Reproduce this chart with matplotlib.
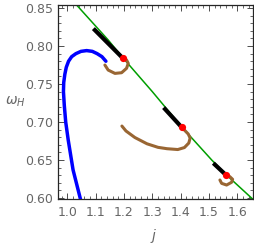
import matplotlib
matplotlib.use("Agg")
import matplotlib.pyplot as plt
from matplotlib.ticker import MultipleLocator, FormatStrFormatter

# Green boundary line
green_j = [1.0325, 1.144, 1.195, 1.30, 1.403, 1.51, 1.56, 1.655]
green_w = [0.854, 0.808, 0.785, 0.740, 0.694, 0.650, 0.631, 0.5985]

# Blue curve
blue_j = [1.046, 1.020, 1.003, 0.994, 0.989, 0.986, 0.987, 0.991, 0.996, 1.004, 1.015, 1.030,
          1.048, 1.068, 1.088, 1.105, 1.122, 1.136]
blue_w = [0.5987, 0.637, 0.676, 0.700, 0.722, 0.740, 0.752, 0.763, 0.772, 0.780, 0.786, 0.790,
          0.793, 0.794, 0.793, 0.790, 0.786, 0.780]

# Black segments (start -> red dot)
black1_j = [1.097, 1.196]
black1_w = [0.821, 0.784]
black2_j = [1.345, 1.404]
black2_w = [0.717, 0.693]
black3_j = [1.521, 1.561]
black3_w = [0.644, 0.630]

# Red dots
red_j = [1.196, 1.404, 1.561]
red_w = [0.784, 0.693, 0.630]

# Brown curves
brown1_j = [1.1325, 1.144, 1.168, 1.1915, 1.209, 1.215, 1.209, 1.197]
brown1_w = [0.775, 0.7684, 0.764, 0.7649, 0.7707, 0.7772, 0.7816, 0.785]
brown2_j = [1.1926, 1.207, 1.2385, 1.281, 1.320, 1.3516, 1.390, 1.4134, 1.429, 1.4336, 1.427, 1.4117, 1.4046]
brown2_w = [0.6947, 0.6882, 0.6796, 0.6714, 0.6667, 0.6649, 0.6638, 0.6664, 0.6724, 0.6789, 0.6842, 0.6901, 0.6928]
brown3_j = [1.5389, 1.5449, 1.5625, 1.5802, 1.5837, 1.5742, 1.5636]
brown3_w = [0.6237, 0.6193, 0.6171, 0.6207, 0.6246, 0.628, 0.630]

fig = plt.figure(figsize=(2.55, 2.44), dpi=100)
ax = fig.add_axes([0.2255, 0.1844, 0.7647, 0.7951])

brown = (0.6, 0.4, 0.2)
ax.plot(green_j, green_w, color=(0.0, 0.62, 0.0), lw=1.1, zorder=2)
ax.plot(blue_j, blue_w, color=(0, 0, 1), lw=2.5, solid_capstyle='round', solid_joinstyle='round', zorder=3)
for bj, bw in [(brown1_j, brown1_w), (brown2_j, brown2_w), (brown3_j, brown3_w)]:
    ax.plot(bj, bw, color=brown, lw=2.2, solid_capstyle='round', solid_joinstyle='round', zorder=3)
for kj, kw in [(black1_j, black1_w), (black2_j, black2_w), (black3_j, black3_w)]:
    ax.plot(kj, kw, color='black', lw=3.0, zorder=4)
ax.plot(red_j, red_w, 'o', color=(1, 0, 0), ms=5.2, mec='none', zorder=5)

ax.set_xlim(0.965, 1.654)
ax.set_ylim(0.5987, 0.854)

ax.xaxis.set_major_locator(MultipleLocator(0.1))
ax.xaxis.set_minor_locator(MultipleLocator(0.02))
ax.yaxis.set_major_locator(MultipleLocator(0.05))
ax.yaxis.set_minor_locator(MultipleLocator(0.01))
ax.xaxis.set_major_formatter(FormatStrFormatter('%.1f'))
ax.yaxis.set_major_formatter(FormatStrFormatter('%.2f'))

lab = (0.4, 0.4, 0.4)
ax.tick_params(which='both', direction='in', top=True, right=True, color='0.3', labelcolor=lab, labelsize=9)
ax.tick_params(which='major', length=4, width=0.7)
ax.tick_params(which='minor', length=2, width=0.6)
ax.tick_params(axis='x', pad=5)
ax.tick_params(axis='y', pad=3)
for s in ax.spines.values():
    s.set_color('0.15')
    s.set_linewidth(0.9)

fig.text(0.02, 0.582, r'$\omega_H$', fontsize=10, color=lab, ha='left', va='center')
fig.text(0.604, 0.033, r'$j$', fontsize=10, color=lab, ha='center', va='center')

fig.savefig('out.png', dpi=100)
